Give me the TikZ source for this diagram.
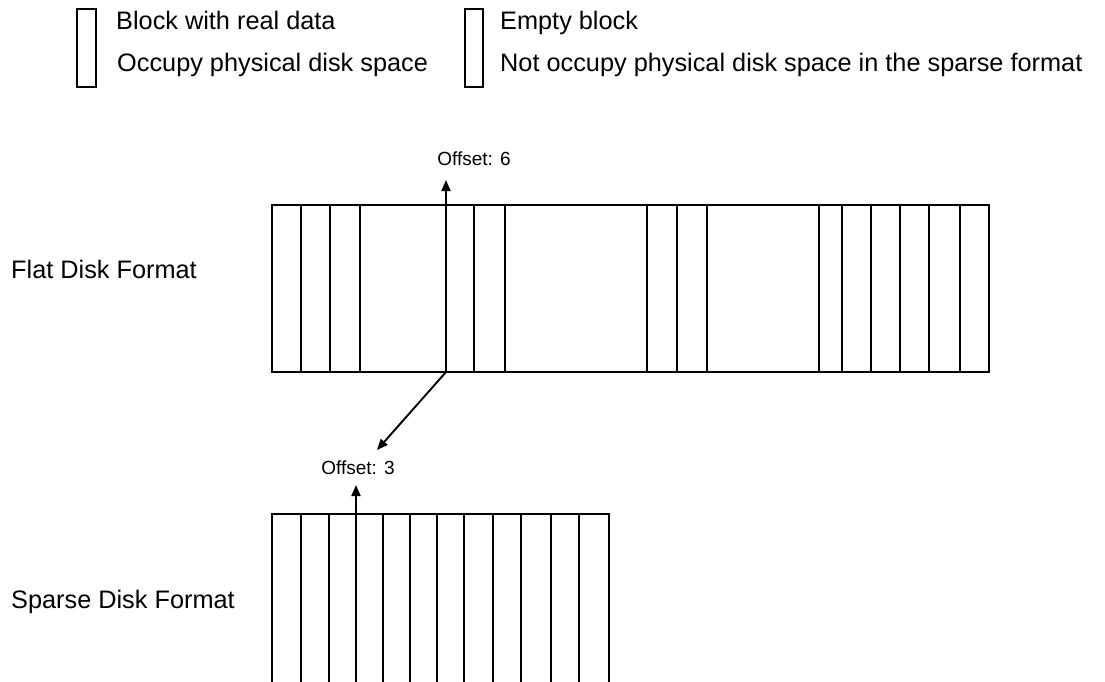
\documentclass[tikz,border=0pt]{standalone}
\usepackage{fontspec}
\setmainfont{Liberation Sans}
\usetikzlibrary{arrows.meta}
\begin{document}
\begin{tikzpicture}[x=1pt,y=-1pt,
  blk/.style={draw, line width=1.9pt, inner sep=0pt, outer sep=0pt, anchor=north west},
  lbl/.style={font=\fontsize{25.3}{30}\selectfont, inner sep=0pt, anchor=base west},
  small/.style={font=\fontsize{19}{23}\selectfont, inner sep=0pt, anchor=base},
  arr/.style={line width=1.9pt, -{Triangle[length=11pt,width=9pt]}}]
\useasboundingbox (0,0) rectangle (1105,681);
\clip (0,0) rectangle (1105,681);
% legend
\node[blk, minimum width=19, minimum height=78] (legA) at (77,9) {};
\node[blk, minimum width=18, minimum height=78] (legB) at (465,9) {};
\node[lbl] (tA1) at (116,29) {Block with real data};
\node[lbl] (tA2) at (117,71) {Occupy physical disk space};
\node[lbl] (tB1) at (500,29) {Empty block};
\node[lbl] (tB2) at (500,71) {Not occupy physical disk space in the sparse format};
% row labels
\node[lbl] (flat) at (11,278) {Flat Disk Format};
\node[lbl] (sparse) at (11,608) {Sparse Disk Format};
% flat disk
\foreach \a/\b [count=\i] in {272/301,301/330,330/360,360/446,446/474,474/505,505/647,647/677,677/707,707/819,819/842,842/871,871/900,900/929,929/960,960/989}
  \node[blk, minimum width={\b-\a}, minimum height=167] (f\i) at (\a,205) {};
% sparse disk
\foreach \a/\b [count=\i] in {272/301,301/329,329/356,356/383,383/410,410/437,437/464,464/493,493/521,521/551,551/579,579/609}
  \node[blk, minimum width={\b-\a}, minimum height=200] (s\i) at (\a,514) {};
% offsets
\node[small] (off6) at (474,165) {Offset: 6};
\node[small] (off3) at (358,474) {Offset: 3};
\coordinate (o6tip) at (446,180);
\coordinate (dtip) at (377,450);
\coordinate (o3tip) at (356,485);
\draw[arr] (f5.north west) -- (o6tip);
\draw[arr] (f5.south west) -- (dtip);
\draw[arr] (s3.north east) -- (o3tip);
\end{tikzpicture}
\end{document}
